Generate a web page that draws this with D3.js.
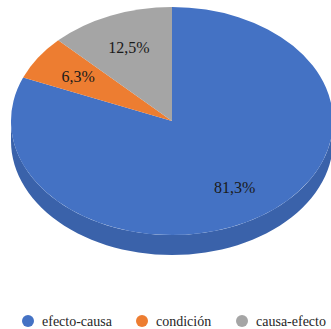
<!DOCTYPE html>
<html>
<head>
<meta charset="utf-8">
<script src="https://cdn.jsdelivr.net/npm/d3@7"></script>
<style>
  html, body { margin: 0; padding: 0; background: #fff; }
  svg { display: block; }
  text { font-family: "Liberation Serif", "DejaVu Serif", "Times New Roman", serif; }
</style>
</head>
<body>
<svg id="chart" width="331" height="329"></svg>
<script>
// Relation types and their share of the total (percent)
const categories = ["efecto-causa", "condición", "causa-efecto"];
const values = [81.3, 6.3, 12.5];
const labels = ["81,3%", "6,3%", "12,5%"];
const topColors = ["#4472c4", "#ed7d31", "#a5a5a5"];
const sideColors = ["#3a62aa", "#c96626", "#8b8b8b"];

const W = 331, H = 329;
const cx = 172, cy = 121, rx = 161, ry = 114, depth = 20;
const R = 100; // arc radius before elliptical scaling

const svg = d3.select("#chart");

const pie = d3.pie().sort(null).value(d => d.value);
const data = pie(categories.map((c, i) => ({ name: c, value: values[i], i })));

const arc = d3.arc().innerRadius(0).outerRadius(R);

// projection of an angle (clockwise from 12 o'clock) on the tilted rim
const px = a => cx + Math.sin(a) * rx;
const py = a => cy - Math.cos(a) * ry;

// visible side wall: front half of the rim, angles between PI/2 and 3PI/2
const sideG = svg.append("g");
data.forEach(d => {
  const a0 = Math.max(d.startAngle, Math.PI / 2);
  const a1 = Math.min(d.endAngle, 3 * Math.PI / 2);
  if (a1 <= a0) return;
  const angles = d3.range(0, 61).map(k => a0 + (a1 - a0) * k / 60);
  const top = angles.map(a => [px(a), py(a)]);
  const bottom = angles.slice().reverse().map(a => [px(a), py(a) + depth]);
  sideG.append("path")
    .attr("d", d3.line()(top.concat(bottom)) + "Z")
    .attr("fill", sideColors[d.data.i]);
});

// top face
const topG = svg.append("g")
  .attr("transform", `translate(${cx},${cy}) scale(${rx / R},${ry / R})`);
topG.selectAll("path")
  .data(data)
  .join("path")
  .attr("d", arc)
  .attr("fill", d => topColors[d.data.i]);

// percentage labels
const labelArc = d3.arc().innerRadius(0).outerRadius(R * 1.4);
svg.append("g")
  .selectAll("text")
  .data(data)
  .join("text")
  .attr("x", d => cx + labelArc.centroid(d)[0] * rx / R)
  .attr("y", d => cy + labelArc.centroid(d)[1] * ry / R)
  .attr("text-anchor", "middle")
  .attr("dominant-baseline", "central")
  .attr("font-size", 16)
  .attr("fill", "#1a1a1a")
  .text(d => labels[d.data.i]);

// legend
const legendX = [28, 142, 242];
const legend = svg.append("g")
  .selectAll("g")
  .data(categories)
  .join("g")
  .attr("transform", (d, i) => `translate(${legendX[i]},321)`);
legend.append("circle")
  .attr("r", 6)
  .attr("fill", (d, i) => topColors[i]);
legend.append("text")
  .attr("x", 14)
  .attr("y", 4.5)
  .attr("font-size", 14)
  .attr("fill", "#262626")
  .text(d => d);
</script>
</body>
</html>
